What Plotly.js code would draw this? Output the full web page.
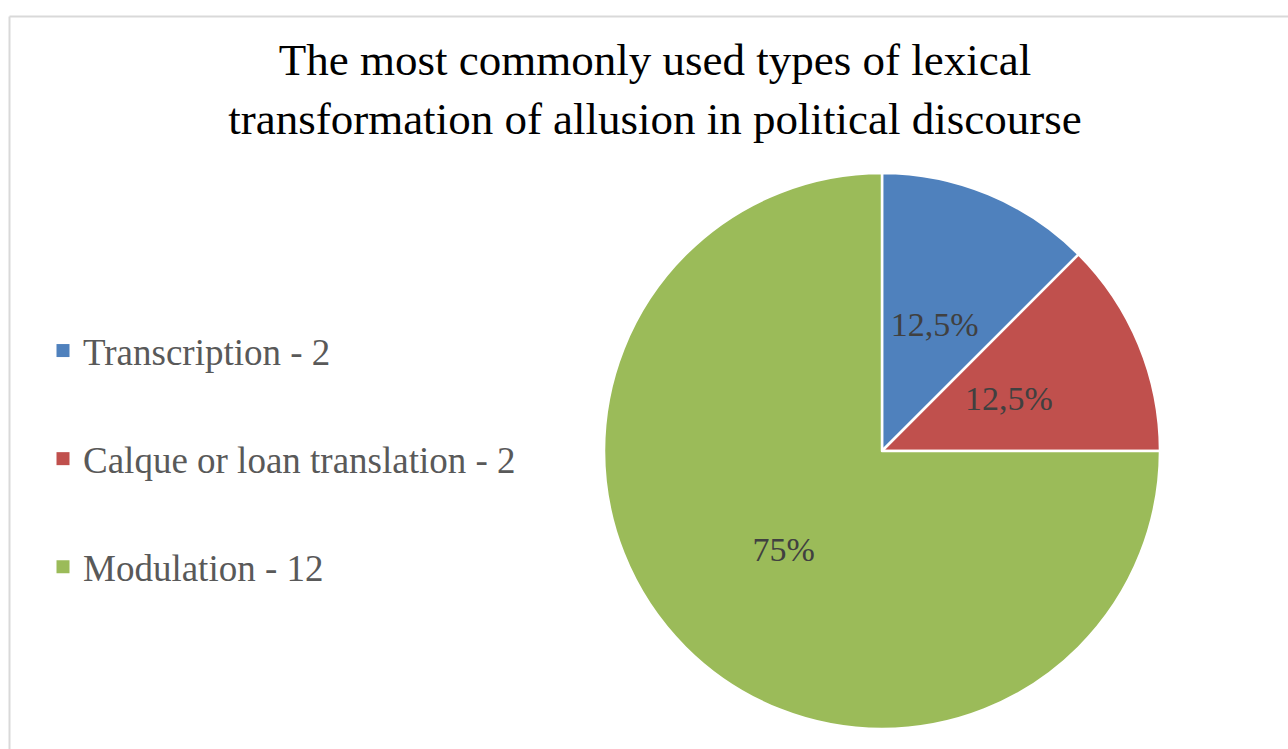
<!DOCTYPE html>
<html><head><meta charset="utf-8">
<script src="https://cdn.plot.ly/plotly-3.0.1.min.js"></script>
<style>html,body{margin:0;padding:0;background:#fff;}#chart{width:1288px;height:749px;}</style>
</head><body><div id="chart"></div>
<script>
const categories = ["Transcription", "Calque or loan translation", "Modulation"];
const counts = [2, 2, 12];
const colors = ["#4F81BD", "#C0504D", "#9BBB59"];
const titleText = "The most commonly used types of lexical<br>transformation of allusion in political discourse";

const W = 1288, H = 749;
const serif = "Liberation Serif, Times New Roman, serif";
const cx = 882, cy = 451, R = 278, rLab = 190;

// main pie: slices + label of the large slice
const pie = {
  type: "pie",
  values: counts,
  labels: categories,
  sort: false,
  direction: "clockwise",
  rotation: 0,
  marker: {colors: colors, line: {color: "#ffffff", width: 2.5}},
  texttemplate: ["", "", "%{percent}"],
  textposition: "inside",
  insidetextorientation: "horizontal",
  insidetextfont: {family: serif, size: 34, color: "#404040"},
  showlegend: false,
  hoverinfo: "label+value+percent",
  domain: {x: [(cx - R) / W, (cx + R) / W], y: [(H - cy - R) / H, (H - cy + R) / H]}
};

// transparent inner pie carrying the labels of the small slices
const labelPie = {
  type: "pie",
  values: counts,
  labels: categories,
  sort: false,
  direction: "clockwise",
  rotation: 0,
  marker: {colors: ["rgba(0,0,0,0)", "rgba(0,0,0,0)", "rgba(0,0,0,0)"], line: {width: 0}},
  texttemplate: ["%{percent}", "%{percent}", ""],
  textposition: "inside",
  insidetextorientation: "horizontal",
  insidetextfont: {family: serif, size: 34, color: "#404040"},
  showlegend: false,
  hoverinfo: "skip",
  domain: {x: [(cx - rLab) / W, (cx + rLab) / W], y: [(H - cy - rLab) / H, (H - cy + rLab) / H]}
};

const legendTraces = categories.map((c, i) => ({
  type: "scatter",
  mode: "markers",
  x: [null], y: [null],
  name: c + " - " + counts[i],
  legendgroup: "g" + i,
  marker: {symbol: "square", size: 13, color: colors[i]},
  showlegend: true,
  hoverinfo: "skip"
}));

const layout = {
  width: W, height: H,
  margin: {l: 0, r: 0, t: 0, b: 0},
  paper_bgcolor: "#ffffff",
  plot_bgcolor: "rgba(0,0,0,0)",
  separators: ",.",
  title: {
    text: titleText,
    font: {family: serif, size: 45, color: "#000000"},
    x: 655 / W, xanchor: "center",
    y: 1 - 75 / H, yanchor: "top",
    xref: "paper", yref: "paper"
  },
  xaxis: {visible: false, domain: [0, 0.01]},
  yaxis: {visible: false, domain: [0, 0.01]},
  showlegend: true,
  legend: {
    x: 43 / W, xanchor: "left",
    y: 1 - 320 / H, yanchor: "top",
    font: {family: serif, size: 37, color: "#595959"},
    tracegroupgap: 57,
    bgcolor: "rgba(0,0,0,0)",
    itemclick: false, itemdoubleclick: false
  },
  shapes: [
    {type: "line", xref: "paper", yref: "paper", x0: 9.5 / W, x1: 1.1, y0: 1 - 16.5 / H, y1: 1 - 16.5 / H, line: {color: "#d9d9d9", width: 2}},
    {type: "line", xref: "paper", yref: "paper", x0: 9.5 / W, x1: 9.5 / W, y0: 1 - 16.5 / H, y1: -0.1, line: {color: "#d9d9d9", width: 2}}
  ]
};

Plotly.newPlot("chart", [pie, labelPie].concat(legendTraces), layout, {displayModeBar: false, staticPlot: true});
</script></body></html>
